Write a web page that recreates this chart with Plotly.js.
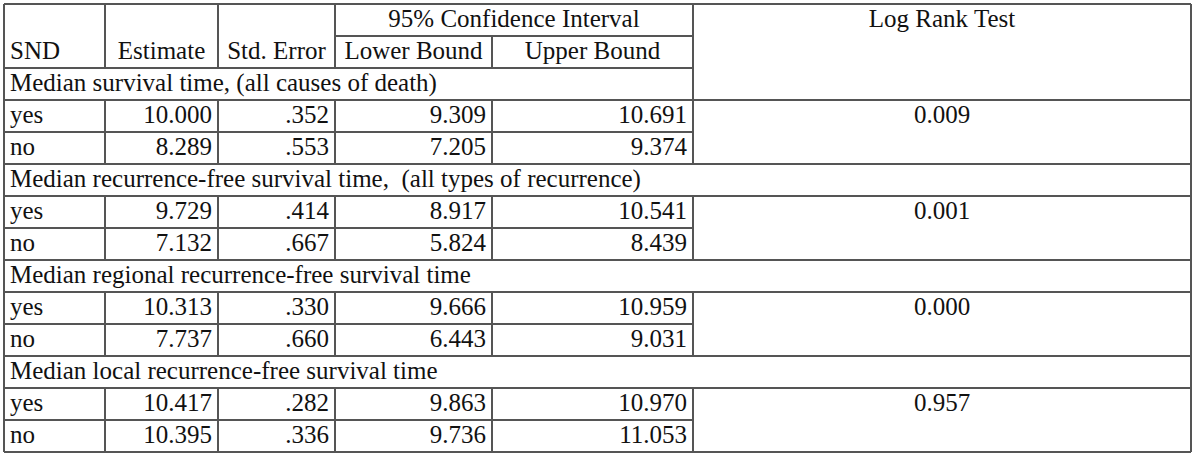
<!DOCTYPE html>
<html>
<head>
<meta charset="utf-8">
<script src="https://cdn.plot.ly/plotly-3.0.1.min.js"></script>
<style>
  html, body { margin: 0; padding: 0; background: #ffffff; }
  #chart { width: 1200px; height: 457px; }
</style>
</head>
<body>
<div id="chart"></div>
<script>
// ---------- data ----------
const groupTitles = [
  "Median survival time, (all causes of death)",
  "Median recurrence-free survival time,\u00a0 (all types of recurrence)",
  "Median regional recurrence-free survival time",
  "Median local recurrence-free survival time"
];
const sndLabels = ["yes", "no"];
const estimate  = [10.000, 8.289, 9.729, 7.132, 10.313, 7.737, 10.417, 10.395];
const stdError  = [0.352, 0.553, 0.414, 0.667, 0.330, 0.660, 0.282, 0.336];
const lowerBound = [9.309, 7.205, 8.917, 5.824, 9.666, 6.443, 9.863, 9.736];
const upperBound = [10.691, 9.374, 10.541, 8.439, 10.959, 9.031, 10.970, 11.053];
const logRank   = [0.009, 0.001, 0.000, 0.957];
const headerTop = "95% Confidence Interval";
const headerCols = ["SND", "Estimate", "Std. Error", "Lower Bound", "Upper Bound", "Log Rank Test"];

// ---------- layout geometry ----------
const colEdges = [4, 105, 218, 335, 492, 693, 1191];
const rowTop = 4, rowH = 32, nRows = 14;
const rowEdge = i => rowTop + rowH * i;
const rowMid = i => rowTop + rowH * (i + 0.5) + 1;
const padR = 6, padL = 6;
const FONT = { family: "Liberation Serif", size: 25, color: "#111111" };
const LINE = { color: "#555555", width: 2 };

const fmt3 = v => v.toFixed(3);
const fmtSE = v => v.toFixed(3).replace(/^0/, "");

// ---------- text traces ----------
const leftX = [], leftY = [], leftT = [];
const rightX = [], rightY = [], rightT = [];
const centX = [], centY = [], centT = [];

// headers
leftX.push(colEdges[0] + padL); leftY.push(rowMid(1)); leftT.push(headerCols[0]);
centX.push((colEdges[1] + colEdges[2]) / 2); centY.push(rowMid(1)); centT.push(headerCols[1]);
centX.push((colEdges[2] + colEdges[3]) / 2); centY.push(rowMid(1)); centT.push(headerCols[2]);
centX.push((colEdges[3] + colEdges[5]) / 2); centY.push(rowMid(0)); centT.push(headerTop);
centX.push((colEdges[3] + colEdges[4]) / 2); centY.push(rowMid(1)); centT.push(headerCols[3]);
centX.push((colEdges[4] + colEdges[5]) / 2); centY.push(rowMid(1)); centT.push(headerCols[4]);
centX.push((colEdges[5] + colEdges[6]) / 2); centY.push(rowMid(0)); centT.push(headerCols[5]);

groupTitles.forEach((title, g) => {
  const sr = 2 + 3 * g;
  leftX.push(colEdges[0] + padL); leftY.push(rowMid(sr)); leftT.push(title);
  sndLabels.forEach((lab, k) => {
    const r = sr + 1 + k;
    const idx = 2 * g + k;
    leftX.push(colEdges[0] + padL); leftY.push(rowMid(r)); leftT.push(lab);
    const vals = [fmt3(estimate[idx]), fmtSE(stdError[idx]), fmt3(lowerBound[idx]), fmt3(upperBound[idx])];
    vals.forEach((v, c) => {
      rightX.push(colEdges[c + 2] - padR); rightY.push(rowMid(r)); rightT.push(v);
    });
  });
  centX.push((colEdges[5] + colEdges[6]) / 2); centY.push(rowMid(sr + 1)); centT.push(fmt3(logRank[g]));
});

const mk = (x, y, t, pos) => ({
  type: "scatter", mode: "text", x: x, y: y, text: t,
  textposition: pos, textfont: FONT, hoverinfo: "skip", showlegend: false, cliponaxis: false
});
const traces = [
  mk(leftX, leftY, leftT, "middle right"),
  mk(rightX, rightY, rightT, "middle left"),
  mk(centX, centY, centT, "middle center")
];

// ---------- grid lines ----------
const shapes = [];
const hl = (y, x0, x1) => shapes.push({ type: "line", xref: "x", yref: "y", x0: x0, x1: x1, y0: y, y1: y, line: LINE });
const vl = (x, y0, y1) => shapes.push({ type: "line", xref: "x", yref: "y", x0: x, x1: x, y0: y0, y1: y1, line: LINE });
const L = colEdges[0], R = colEdges[6], C5 = colEdges[5];

hl(rowEdge(0), L, R);
hl(rowEdge(1), colEdges[3], C5);
vl(L, rowEdge(0), rowEdge(nRows));
vl(R, rowEdge(0), rowEdge(nRows));
vl(colEdges[1], rowEdge(0), rowEdge(2));
vl(colEdges[2], rowEdge(0), rowEdge(2));
vl(colEdges[3], rowEdge(0), rowEdge(2));
vl(colEdges[4], rowEdge(1), rowEdge(2));
vl(C5, rowEdge(0), rowEdge(3));

groupTitles.forEach((title, g) => {
  const sr = 2 + 3 * g;
  hl(rowEdge(sr), L, g === 0 ? C5 : R);
  hl(rowEdge(sr + 1), L, R);
  hl(rowEdge(sr + 2), L, C5);
  hl(rowEdge(sr + 3), L, R);
  [1, 2, 3, 4, 5].forEach(c => vl(colEdges[c], rowEdge(sr + 1), rowEdge(sr + 3)));
});

const layout = {
  width: 1200, height: 457,
  margin: { l: 0, r: 0, t: 0, b: 0, pad: 0 },
  paper_bgcolor: "#ffffff", plot_bgcolor: "#ffffff",
  xaxis: { range: [0, 1200], visible: false, fixedrange: true },
  yaxis: { range: [457, 0], visible: false, fixedrange: true },
  shapes: shapes,
  showlegend: false
};

Plotly.newPlot("chart", traces, layout, { displayModeBar: false, staticPlot: true });
</script>
</body>
</html>
